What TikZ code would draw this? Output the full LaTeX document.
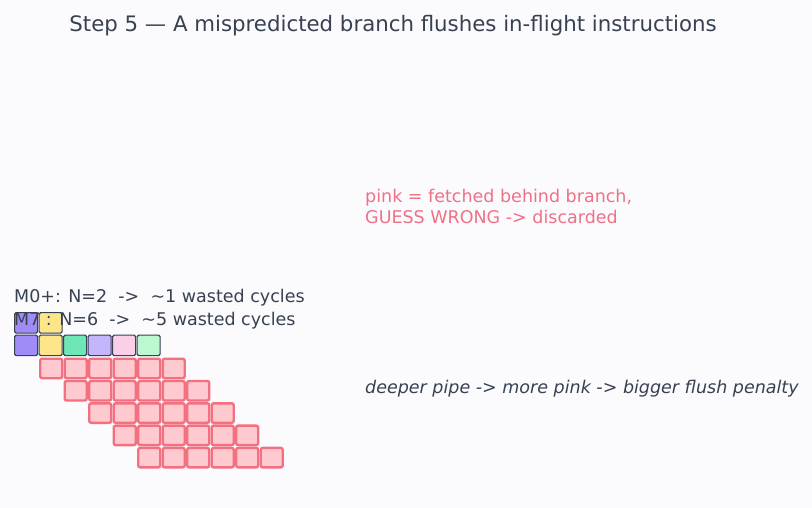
\documentclass[tikz,border=0pt]{standalone}
\usepackage{fontspec}
\setmainfont{DejaVu Sans}
\definecolor{bgc}{HTML}{FBFBFE}
\definecolor{ink}{HTML}{374151}
\definecolor{pinkline}{HTML}{F2707F}
\definecolor{pinkfill}{HTML}{FFC9D0}
\definecolor{pinktext}{HTML}{F07086}
\definecolor{cA}{HTML}{A18CF7}
\definecolor{cB}{HTML}{FDE68A}
\definecolor{cC}{HTML}{6EE7B7}
\definecolor{cD}{HTML}{C4B5FD}
\definecolor{cE}{HTML}{FBCFE8}
\definecolor{cF}{HTML}{BBF7D0}
\tikzset{
  cellbox/.style={draw=ink, line width=1.2pt, rounded corners=1.5pt, inner sep=0pt,
    minimum width=23pt, minimum height=20.5pt, anchor=north west},
  flushbox/.style={draw=pinkline, fill=pinkfill, line width=2.4pt, rounded corners=2pt, inner sep=0pt,
    minimum width=22pt, minimum height=19.5pt, anchor=north west},
  lbl/.style={anchor=base west, inner sep=0pt, text=ink, font=\fontsize{17.5}{21}\selectfont},
}
\begin{document}
\begin{tikzpicture}[x=1pt,y=1pt]
\fill[bgc] (0,0) rectangle (812,-508);
\useasboundingbox (0,0) rectangle (812,-508);
% M0+ row
\node[cellbox, fill=cA] (m0a) at (14,-312) {};
\node[cellbox, fill=cB] (m0b) at (38.5,-312) {};
% M7 row
\foreach \c/\col in {0/cA,1/cB,2/cC,3/cD,4/cE,5/cF}{
  \node[cellbox, fill=\col] (m7\c) at ({14+24.5*\c},-334.5) {};
}
% flushed rows
\foreach \r in {1,...,5}{
  \foreach \k in {0,...,5}{
    \node[flushbox] (p\r\k) at ({14.5+24.5*(\r+\k)},{-357.5-22.3*(\r-1)}) {};
  }
}
% texts
\node[anchor=base, inner sep=0pt, text=ink, font=\fontsize{21.3}{25}\selectfont] (title) at (393,-31.8)
  {Step 5 — A mispredicted branch flushes in-flight instructions};
\node[lbl] (l1) at (14,-302.5) {M0+: N=2\ \ ->\ \ \textasciitilde1 wasted cycles};
\node[lbl] (l2) at (14,-325) {M7\ : N=6\ \ ->\ \ \textasciitilde5 wasted cycles};
\node[lbl, text=pinktext] (p1t) at (365,-202.3) {pink = fetched behind branch,};
\node[lbl, text=pinktext] (p2t) at (365,-223.3) {GUESS WRONG -> discarded};
\node[lbl, font=\fontsize{17.5}{21}\selectfont\itshape] (note) at (365,-393.3) {deeper pipe -> more pink -> bigger flush penalty};
\end{tikzpicture}
\end{document}
